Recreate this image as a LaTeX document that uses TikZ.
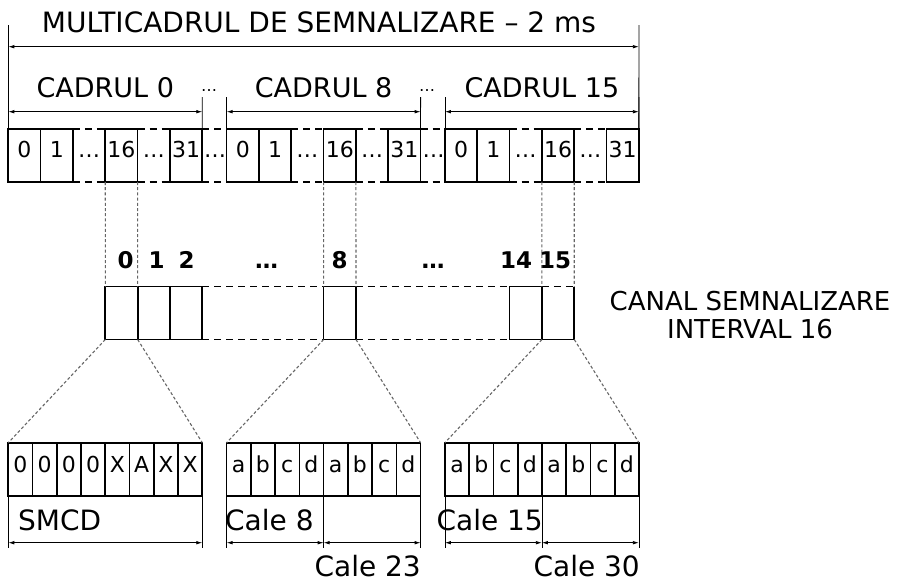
\documentclass[tikz,border=0pt]{standalone}
\usepackage{fontspec}
\setmainfont{DejaVu Sans}
\usetikzlibrary{arrows.meta}
\begin{document}
\begin{tikzpicture}[x=1pt,y=-1pt,
  cell/.style={draw, line width=1.7pt, minimum width=32.33pt, minimum height=53pt, inner sep=0pt, outer sep=0pt},
  bcell/.style={draw, line width=1.7pt, minimum width=24.25pt, minimum height=53.3pt, inner sep=0pt, outer sep=0pt},
  dashline/.style={line width=1.7pt, dash pattern=on 7pt off 5pt},
  dotline/.style={black!60, line width=1.1pt, dash pattern=on 3pt off 2.2pt},
  dimline/.style={line width=0.8pt, {Latex[length=6pt,width=3.6pt]}-{Latex[length=6pt,width=3.6pt]}},
  ticks/.style={line width=0.8pt},
  big/.style={font=\fontsize{27}{32}\selectfont, inner sep=0pt},
  mid/.style={font=\fontsize{26}{30}\selectfont, inner sep=0pt},
  lab/.style={font=\fontsize{28}{32}\selectfont, inner sep=0pt},
  digit/.style={font=\fontsize{22}{26}\selectfont, inner sep=0pt},
  bdigit/.style={font=\fontsize{23}{27}\bfseries\selectfont, inner sep=0pt},
  small/.style={font=\fontsize{22}{26}\selectfont, inner sep=0pt},
  tiny/.style={font=\fontsize{16}{20}\selectfont, inner sep=0pt}
]
\useasboundingbox (0,0) rectangle (904,582);

% ---------- top row: frames ----------
\foreach \k/\s/\t in {A/8.3/0, B/226.6/8, C/444.9/15}{
  \foreach \i/\lab in {0/0, 1/1, 3/16, 5/31}{
    \node[cell] (\k\i) at ({\s+(\i+0.5)*32.33}, 155.5) {};
    \node[digit, anchor=base] (\k\i t) at ([yshift=-1.5pt]\k\i.center) {\lab};
  }
  \draw[dashline] (\k1.north east) -- (\k3.north west);
  \draw[dashline] (\k1.south east) -- (\k3.south west);
  \draw[dashline] (\k3.north east) -- (\k5.north west);
  \draw[dashline] (\k3.south east) -- (\k5.south west);
  \node[digit, anchor=base] (\k g1) at ({\s+2.5*32.33}, 157) {…};
  \node[digit, anchor=base] (\k g2) at ({\s+4.5*32.33}, 157) {…};
  % frame dimension
  \coordinate (\k tl) at (\s, 97);
  \coordinate (\k tr) at ({\s+194}, 97);
  \coordinate (\k al) at (\s, 111.7);
  \coordinate (\k ar) at ({\s+194}, 111.7);
  \draw[ticks] (\k tl) -- (\k0.north west);
  \draw[ticks] (\k tr) -- (\k5.north east);
  \draw[dimline] (\k al) -- (\k ar);
  \node[big, anchor=base] (\k lab) at ({\s+97}, 97) {CADRUL \t};
}
\draw[dashline] (A5.north east) -- (B0.north west);
\draw[dashline] (A5.south east) -- (B0.south west);
\draw[dashline] (B5.north east) -- (C0.north west);
\draw[dashline] (B5.south east) -- (C0.south west);
\node[digit, anchor=base] (gAB) at (215, 157) {…};
\node[digit, anchor=base] (gBC) at (433.5, 157) {…};
\node[tiny, anchor=base] (dAB) at (209, 91) {…};
\node[tiny, anchor=base] (dBC) at (427, 91) {…};

% multiframe dimension
\coordinate (mt1) at (8.3, 25);
\coordinate (mt2) at (638.9, 25);
\coordinate (ma1) at (8.3, 46.7);
\coordinate (ma2) at (638.9, 46.7);
\draw[ticks] (mt1) -- (A0.north west);
\draw[ticks] (mt2) -- (C5.north east);
\draw[dimline] (ma1) -- (ma2);
\node[font=\fontsize{28}{32}\selectfont, inner sep=0pt, anchor=base] (title) at (319, 32) {MULTICADRUL DE SEMNALIZARE – 2 ms};

% ---------- middle row ----------
\node[cell] (M0) at (121.5, 313) {};
\node[cell] (M1) at (153.8, 313) {};
\node[cell] (M2) at (186.1, 313) {};
\node[cell] (M8) at (339.8, 313) {};
\node[cell] (M14) at (525.7, 313) {};
\node[cell, draw=none] (M15) at (558.1, 313) {};
\draw[line width=1.7pt] (M15.north east) -- (M15.south east) -- (M15.south west);
\draw[dashline] (M15.north west) -- (M15.north east);
\draw[dashline] (M2.north east) -- (M8.north west);
\draw[dashline] (M2.south east) -- (M8.south west);
\draw[dashline] (M8.north east) -- (M14.north west);
\draw[dashline] (M8.south east) -- (M14.south west);

\node[bdigit, anchor=base] (n0) at (125.5, 268) {0};
\node[bdigit, anchor=base] (n1) at (156.5, 268) {1};
\node[bdigit, anchor=base] (n2) at (186.5, 268) {2};
\node[bdigit, anchor=base] (nd1) at (266.7, 268) {…};
\node[bdigit, anchor=base] (n8) at (339.5, 268) {8};
\node[bdigit, anchor=base] (nd2) at (433, 268) {…};
\node[bdigit, anchor=base] (n14) at (516, 268) {14};
\node[bdigit, anchor=base] (n15) at (555, 268) {15};

\node[mid, anchor=base] (canal1) at (750, 310) {CANAL SEMNALIZARE};
\node[mid, anchor=base] (canal2) at (750, 338) {INTERVAL 16};

% vertical dotted links
\draw[dotline] (A3.south west) -- (M0.north west);
\draw[dotline] (A3.south east) -- (M0.north east);
\draw[dotline] (B3.south west) -- (M8.north west);
\draw[dotline] (B3.south east) -- (M8.north east);
\draw[dotline] (C3.south west) -- (M15.north west);
\draw[dotline] (C3.south east) -- (M15.north east);

% ---------- bottom row ----------
\foreach \k/\s/\labs in {A/8.3/{0,0,0,0,X,A,X,X}, B/226.6/{a,b,c,d,a,b,c,d}, C/444.9/{a,b,c,d,a,b,c,d}}{
  \foreach \l [count=\n from 0] in \labs {
    \node[bcell] (G\k\n) at ({\s+(\n+0.5)*24.25}, 469.35) {};
    \node[small, anchor=base] (G\k\n t) at ({\s+(\n+0.5)*24.25}, 472) {\l};
  }
  \coordinate (G\k bl) at (\s, 548);
  \coordinate (G\k br) at ({\s+194}, 548);
  \draw[ticks] (G\k0.south west) -- (G\k bl);
  \draw[ticks] (G\k7.south east) -- (G\k br);
}
\draw[dotline] (M0.south west) -- (GA0.north west);
\draw[dotline] (M0.south east) -- (GA7.north east);
\draw[dotline] (M8.south west) -- (GB0.north west);
\draw[dotline] (M8.south east) -- (GB7.north east);
\draw[dotline] (M15.south west) -- (GC0.north west);
\draw[dotline] (M15.south east) -- (GC7.north east);

% bottom dimensions
\coordinate (aA1) at (8.3, 542.7);
\coordinate (aA2) at (202.3, 542.7);
\draw[dimline] (aA1) -- (aA2);
\coordinate (GBm) at (323.6, 548);
\coordinate (GCm) at (541.9, 548);
\draw[ticks] (GB3.south east) -- (GBm);
\draw[ticks] (GC3.south east) -- (GCm);
\coordinate (aB1) at (226.6, 542.7);
\coordinate (aB2) at (323.6, 542.7);
\coordinate (aB3) at (420.6, 542.7);
\draw[dimline] (aB1) -- (aB2);
\draw[dimline] (aB2) -- (aB3);
\coordinate (aC1) at (444.9, 542.7);
\coordinate (aC2) at (541.9, 542.7);
\coordinate (aC3) at (638.9, 542.7);
\draw[dimline] (aC1) -- (aC2);
\draw[dimline] (aC2) -- (aC3);

\node[lab, anchor=base west] (smcd) at (18, 530) {SMCD};
\node[lab, anchor=base west] (cale8) at (225, 530) {Cale 8};
\node[lab, anchor=base east] (cale15) at (543, 530) {Cale 15};
\node[lab, anchor=base east] (cale23) at (421, 576.7) {Cale 23};
\node[lab, anchor=base east] (cale30) at (640, 576.7) {Cale 30};
\end{tikzpicture}
\end{document}
